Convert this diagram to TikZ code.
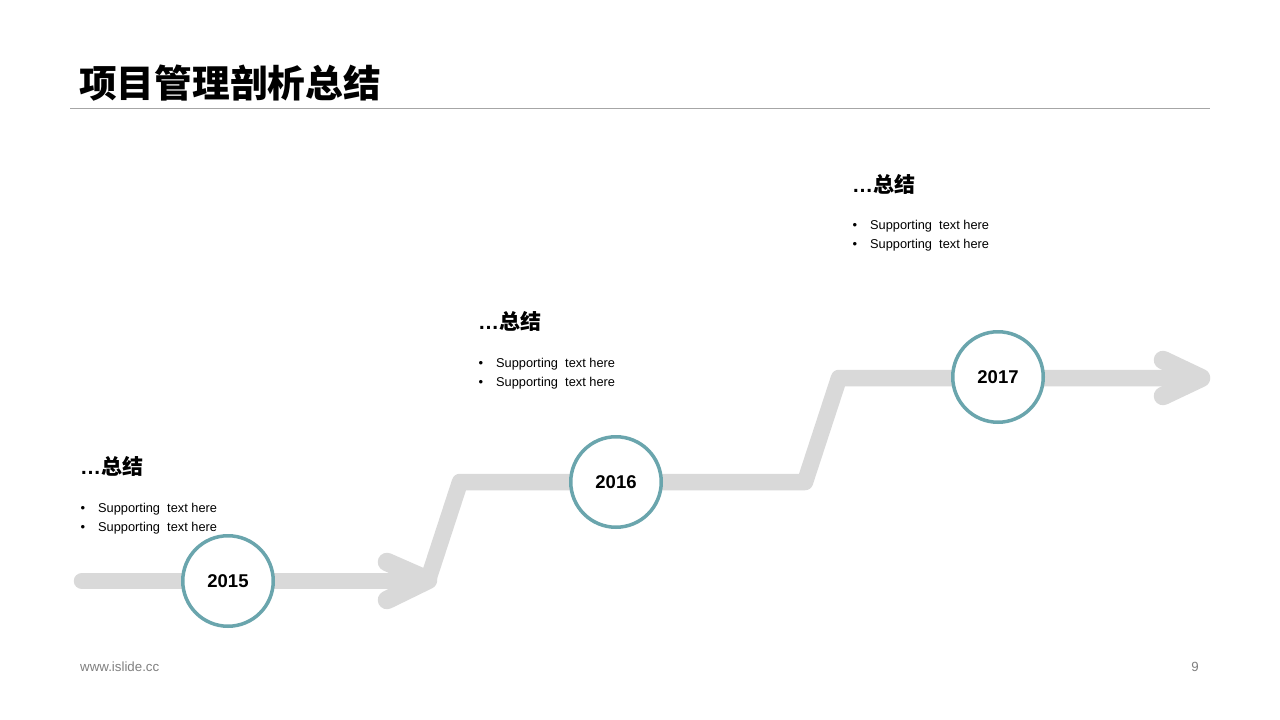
\documentclass[tikz,border=0pt]{standalone}
\usepackage{fontspec}
\setmainfont{Liberation Sans}
\newfontfamily\cjk{Noto Sans CJK SC}
\definecolor{trackgray}{HTML}{D9D9D9}
\definecolor{ringcol}{HTML}{6AA5AD}
\definecolor{rulegray}{HTML}{A6A6A6}
\definecolor{footgray}{HTML}{808080}
\begin{document}
\begin{tikzpicture}[x=1pt,y=-1pt,
  track/.style={draw=trackgray, line width=16.5pt, line cap=round, line join=round},
  tiptrack/.style={track, line width=18.5pt},
  yearring/.style={circle, draw=ringcol, line width=3.5pt, fill=white, minimum size=90.5pt, inner sep=0pt, font=\bfseries\fontsize{18.5}{20}\selectfont},
  headtxt/.style={anchor=west, inner sep=0pt, font=\bfseries\fontsize{21}{24}\selectfont},
  bul/.style={inner sep=0pt, font=\fontsize{13}{15}\selectfont},
  suptxt/.style={anchor=west, inner sep=0pt, font=\fontsize{12.8}{15}\selectfont},
  foot/.style={inner sep=0pt, text=footgray, font=\fontsize{13.3}{15}\selectfont}]
\useasboundingbox[fill=white] (0,0) rectangle (1280,720);

% title
\node[anchor=west, inner sep=0pt, font=\cjk\bfseries\fontsize{37.7}{40}\selectfont] (title) at (79,83) {项目管理剖析总结};
\coordinate (rl) at (70,108);
\coordinate (rr) at (1210,108);
\draw[rulegray, line width=1pt] (rl) -- (rr);

% track
\coordinate (p0) at (82,581);
\coordinate (p1) at (424,581);
\coordinate (h1a) at (387,562);
\coordinate (h1t) at (428,580);
\coordinate (h1b) at (387,600);
\coordinate (q1) at (460,482);
\coordinate (q2) at (805,482);
\coordinate (q3) at (839,378);
\coordinate (q4) at (1198,378);
\coordinate (h2a) at (1163,360);
\coordinate (h2t) at (1201,378);
\coordinate (h2b) at (1163,396);
\draw[track] (p0) -- (p1);
\draw[tiptrack] (h1a) -- (h1t) -- (h1b);
\draw[track] (h1t) -- (q1) -- (q2) -- (q3) -- (q4);
\draw[tiptrack] (h2a) -- (h2t) -- (h2b);

% year rings
\node[yearring] (y15) at (228,581) {2015};
\node[yearring] (y16) at (616,482) {2016};
\node[yearring] (y17) at (998,377) {2017};

% text blocks
\node[headtxt] (t1) at (80,466) {…{\cjk\bfseries 总结}};
\node[bul] (b1a) at (83,509) {•};
\node[suptxt] (s1a) at (98,509) {Supporting\ \ text here};
\node[bul] (b1b) at (83,528) {•};
\node[suptxt] (s1b) at (98,528) {Supporting\ \ text here};

\node[headtxt] (t2) at (478,321) {…{\cjk\bfseries 总结}};
\node[bul] (b2a) at (481,364) {•};
\node[suptxt] (s2a) at (496,364) {Supporting\ \ text here};
\node[bul] (b2b) at (481,383) {•};
\node[suptxt] (s2b) at (496,383) {Supporting\ \ text here};

\node[headtxt] (t3) at (852,184) {…{\cjk\bfseries 总结}};
\node[bul] (b3a) at (855,226) {•};
\node[suptxt] (s3a) at (870,226) {Supporting\ \ text here};
\node[bul] (b3b) at (855,245) {•};
\node[suptxt] (s3b) at (870,245) {Supporting\ \ text here};

% footer
\node[foot, anchor=west] (url) at (80,667) {www.islide.cc};
\node[foot] (pg) at (1195,667) {9};
\end{tikzpicture}
\end{document}
